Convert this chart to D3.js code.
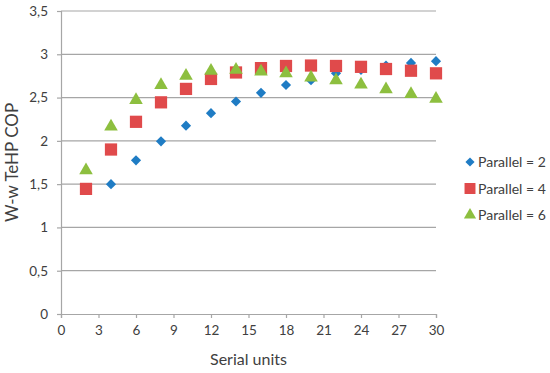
<!DOCTYPE html>
<html>
<head>
<meta charset="utf-8">
<script src="https://cdn.jsdelivr.net/npm/d3@7"></script>
<style>
  body { margin: 0; background: #fff; }
  text { font-family: Lato, "Open Sans", sans-serif; fill: #404040; }
</style>
</head>
<body>
<div id="chart"></div>
<script>
const w = 550;
const h = 373;
const margin = { top: 11, right: 114, bottom: 59, left: 61 };

const xTicks = [0, 3, 6, 9, 12, 15, 18, 21, 24, 27, 30];
const yTicks = [0, 0.5, 1, 1.5, 2, 2.5, 3, 3.5];

const xPar2 = [4, 6, 8, 10, 12, 14, 16, 18, 20, 22, 24, 26, 28, 30];
const yPar2 = [1.50, 1.775, 1.995, 2.175, 2.32, 2.455, 2.555, 2.645, 2.70, 2.78, 2.82, 2.87, 2.90, 2.92];

const xPar4 = [2, 4, 6, 8, 10, 12, 14, 16, 18, 20, 22, 24, 26, 28, 30];
const yPar4 = [1.445, 1.90, 2.22, 2.445, 2.60, 2.715, 2.79, 2.84, 2.865, 2.87, 2.865, 2.855, 2.83, 2.81, 2.78];

const xPar6 = [2, 4, 6, 8, 10, 12, 14, 16, 18, 20, 22, 24, 26, 28, 30];
const yPar6 = [1.66, 2.165, 2.47, 2.645, 2.75, 2.81, 2.82, 2.80, 2.78, 2.73, 2.70, 2.65, 2.595, 2.54, 2.485];

const seriesNames = ["Parallel = 2", "Parallel = 4", "Parallel = 6"];
const colors = ["#1f7cc4", "#e04a4b", "#8dbf3f"];

const series = [
  { name: seriesNames[0], color: colors[0], shape: d3.symbolDiamond2, size: 66, pts: xPar2.map((x, i) => [x, yPar2[i]]) },
  { name: seriesNames[1], color: colors[1], shape: d3.symbolSquare, size: 150, pts: xPar4.map((x, i) => [x, yPar4[i]]) },
  { name: seriesNames[2], color: colors[2], shape: d3.symbolTriangle, size: 80, pts: xPar6.map((x, i) => [x, yPar6[i]]) }
];

const svg = d3.select("#chart").append("svg").attr("width", w).attr("height", h);

const x = d3.scaleLinear().domain([0, 30]).range([margin.left, w - margin.right]);
const y = d3.scaleLinear().domain([0, 3.5]).range([h - margin.bottom, margin.top]);

const fmt = d => d3.format("")(d).replace(".", ",");

// gridlines
svg.append("g")
  .selectAll("line")
  .data(yTicks.filter(d => d > 0))
  .enter()
  .append("line")
  .attr("x1", x(0)).attr("x2", x(30))
  .attr("y1", d => y(d)).attr("y2", d => y(d))
  .style("stroke", "#a6a6a6")
  .style("stroke-width", 1.2);

// y axis
const yAxis = svg.append("g")
  .attr("transform", `translate(${x(0)},0)`)
  .call(d3.axisLeft(y).tickValues(yTicks).tickFormat(fmt).tickSize(4).tickPadding(9));

// x axis
const xAxis = svg.append("g")
  .attr("transform", `translate(0,${y(0)})`)
  .call(d3.axisBottom(x).tickValues(xTicks).tickSize(4).tickPadding(7));

[yAxis, xAxis].forEach(g => {
  g.select(".domain").style("stroke", "#a6a6a6").style("stroke-width", 1.2);
  g.selectAll(".tick line").style("stroke", "#a6a6a6").style("stroke-width", 1.2);
  g.selectAll("text").style("font-family", "Lato, sans-serif").style("font-size", "13.5px").style("fill", "#404040");
});

// markers
series.forEach(s => {
  svg.append("g")
    .selectAll("path")
    .data(s.pts)
    .enter()
    .append("path")
    .attr("d", d3.symbol().type(s.shape).size(s.size))
    .attr("transform", d => `translate(${x(d[0])},${y(d[1])})`)
    .style("fill", s.color);
});

// axis titles
svg.append("text")
  .attr("transform", `translate(18,${(y(0) + y(3.5)) / 2}) rotate(-90)`)
  .attr("text-anchor", "middle")
  .style("font-size", "17px")
  .text("W-w TeHP COP");

svg.append("text")
  .attr("x", (x(0) + x(30)) / 2)
  .attr("y", 365)
  .attr("text-anchor", "middle")
  .style("font-size", "16px")
  .text("Serial units");

// legend
const legend = svg.append("g")
  .selectAll("g")
  .data(series)
  .enter()
  .append("g")
  .attr("transform", (d, i) => `translate(470,${162 + i * 26.5})`);

legend.append("path")
  .attr("d", d => d3.symbol().type(d.shape).size(d.size * 0.8)())
  .style("fill", d => d.color);

legend.append("text")
  .attr("x", 8)
  .attr("y", 5)
  .style("font-size", "14px")
  .text(d => d.name);
</script>
</body>
</html>
